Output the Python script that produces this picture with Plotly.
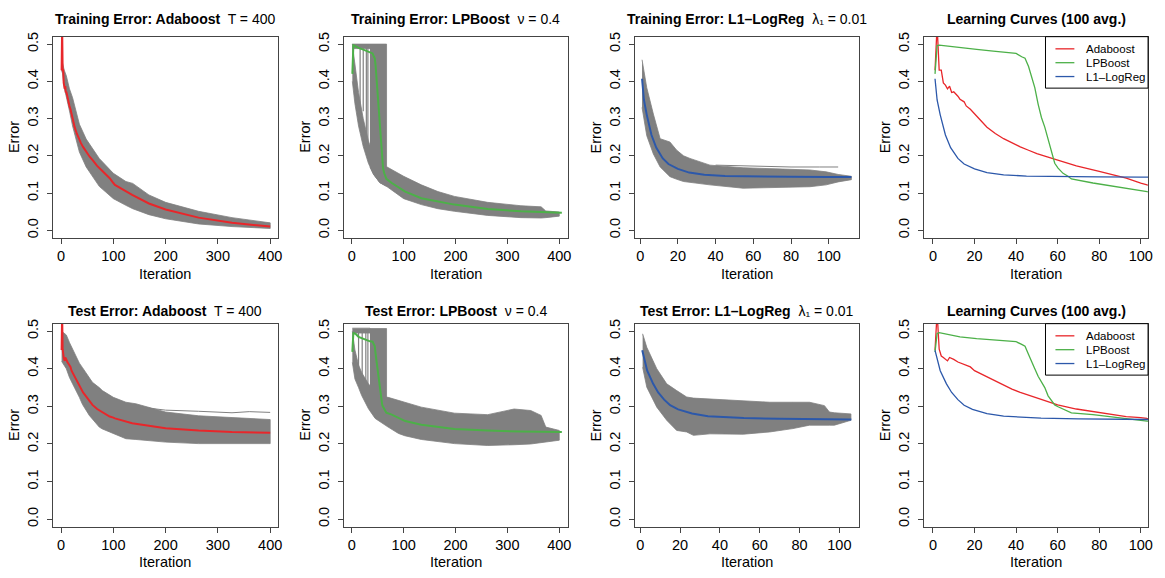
import plotly.graph_objects as go

# ---------------- data ----------------
# Adaboost mean curves (average of 100 runs)
ada_x = [1, 2, 3, 4, 5, 6, 7, 8, 9, 10, 12, 13, 15, 16, 18, 20, 23, 26, 30, 34, 38, 42, 46, 50, 55, 60, 69, 80, 93, 100, 103, 136, 168, 200, 263, 327, 400]
ada_train = [0.43, 0.55, 0.43, 0.43, 0.396, 0.39, 0.38, 0.387, 0.37, 0.372, 0.36, 0.352, 0.345, 0.334, 0.325, 0.312, 0.295, 0.277, 0.26, 0.246, 0.234, 0.224, 0.215, 0.206, 0.197, 0.189, 0.173, 0.158, 0.140, 0.127, 0.122, 0.095, 0.072, 0.056, 0.034, 0.020, 0.010]
ada_test = [0.45, 0.55, 0.452, 0.434, 0.43, 0.425, 0.421, 0.43, 0.428, 0.425, 0.418, 0.416, 0.41, 0.408, 0.405, 0.395, 0.387, 0.379, 0.368, 0.356, 0.346, 0.337, 0.330, 0.322, 0.313, 0.304, 0.293, 0.283, 0.273, 0.270, 0.268, 0.255, 0.248, 0.242, 0.236, 0.232, 0.230]

# LPBoost mean curves
lp_x = [1, 2, 3, 5, 8, 13, 21, 29, 35, 40, 42.7, 44.3, 46, 47.5, 49, 50.6, 52.2, 53.8, 55.4, 57, 58.6, 60.2, 62.6, 65, 66.6, 77, 90, 103, 134, 166, 198, 262, 326, 405]
lp_train = [0.42, 0.496, 0.497, 0.496, 0.493, 0.490, 0.486, 0.481, 0.478, 0.475, 0.466, 0.462, 0.44, 0.409, 0.383, 0.339, 0.303, 0.277, 0.242, 0.211, 0.180, 0.167, 0.153, 0.145, 0.138, 0.127, 0.116, 0.104, 0.086, 0.077, 0.069, 0.057, 0.051, 0.047]
lp_test = [0.445, 0.494, 0.496, 0.494, 0.492, 0.485, 0.480, 0.476, 0.473, 0.472, 0.465, 0.460, 0.438, 0.421, 0.400, 0.380, 0.364, 0.350, 0.328, 0.315, 0.304, 0.299, 0.293, 0.289, 0.283, 0.278, 0.269, 0.261, 0.251, 0.245, 0.240, 0.236, 0.233, 0.2316]

# L1-LogReg mean curves
l1_train_x = [1, 2, 3.5, 6, 8.5, 10, 12, 15, 20, 26, 34, 45, 61, 80, 100, 112]
l1_train = [0.407, 0.35, 0.31, 0.256, 0.222, 0.208, 0.193, 0.178, 0.165, 0.155, 0.149, 0.1455, 0.144, 0.1435, 0.143, 0.143]
l1_test_x = [1, 3.5, 6.5, 9, 12, 15, 19, 26, 34, 42, 52, 70, 90, 106]
l1_test = [0.449, 0.395, 0.36, 0.337, 0.318, 0.303, 0.292, 0.281, 0.274, 0.271, 0.269, 0.267, 0.266, 0.265]

# spread of the 100 individual runs (upper / lower envelope of the grey runs)
ada_train_run_x = [1, 3, 6, 10, 16, 22, 29, 35, 48, 54, 73, 100, 124, 137, 168, 200, 263, 327, 400]
ada_train_run_hi = [0.46, 0.444, 0.43, 0.415, 0.38, 0.356, 0.32, 0.285, 0.245, 0.232, 0.193, 0.153, 0.131, 0.126, 0.095, 0.075, 0.051, 0.034, 0.020]
ada_train_run_lo = [0.43, 0.42, 0.383, 0.36, 0.321, 0.28, 0.24, 0.21, 0.170, 0.158, 0.118, 0.085, 0.067, 0.058, 0.042, 0.031, 0.017, 0.010, 0.005]

ada_test_run_x = [1, 10, 16, 22, 35, 41, 54, 60, 73, 79, 100, 124, 143, 168, 200, 263, 327, 400]
ada_test_run_hi = [0.50, 0.49, 0.47, 0.452, 0.415, 0.403, 0.375, 0.364, 0.350, 0.342, 0.324, 0.311, 0.307, 0.298, 0.285, 0.275, 0.270, 0.265]
ada_test_run_lo = [0.42, 0.40, 0.377, 0.36, 0.324, 0.305, 0.276, 0.265, 0.245, 0.24, 0.227, 0.214, 0.212, 0.210, 0.205, 0.201, 0.201, 0.201]
ada_test_outlier_x = [140, 200, 263, 300, 327, 360, 400]
ada_test_outlier_y = [0.30, 0.29, 0.287, 0.285, 0.283, 0.286, 0.284]

lp_train_run_x = [1, 6, 13, 22, 32, 42, 54, 67, 68, 100, 134, 166, 198, 262, 326, 365, 374, 400]
lp_train_run_hi = [0.50, 0.44, 0.37, 0.30, 0.24, 0.20, 0.17, 0.17, 0.17, 0.145, 0.122, 0.104, 0.091, 0.075, 0.066, 0.063, 0.052, 0.049]
lp_train_run_lo = [0.40, 0.34, 0.28, 0.225, 0.18, 0.15, 0.128, 0.118, 0.117, 0.085, 0.069, 0.058, 0.051, 0.040, 0.034, 0.033, 0.034, 0.038]
lp_train_stuck_x = [35, 42, 54, 67]
lp_train_stuck_hi = [0.5, 0.5, 0.5, 0.5]
lp_train_stuck_lo = [0.17, 0.15, 0.128, 0.118]
lp_train_top_x = [1, 35]
lp_train_top_hi = [0.5, 0.5]
lp_train_top_lo = [0.488, 0.488]
lp_train_drop_x = [16, 22, 28, 31]
lp_train_drop_lo = [0.29, 0.32, 0.22, 0.20]

lp_test_run_x = [1, 6, 13, 19, 32, 45, 55, 64, 70, 90, 102, 134, 166, 198, 262, 313, 345, 365, 374, 400]
lp_test_run_hi = [0.50, 0.45, 0.41, 0.39, 0.36, 0.34, 0.33, 0.325, 0.324, 0.315, 0.311, 0.298, 0.289, 0.282, 0.278, 0.293, 0.289, 0.276, 0.245, 0.236]
lp_test_run_lo = [0.417, 0.373, 0.35, 0.329, 0.294, 0.268, 0.258, 0.250, 0.245, 0.228, 0.222, 0.212, 0.207, 0.201, 0.196, 0.198, 0.200, 0.203, 0.205, 0.21]
lp_test_stuck_x = [35, 48, 67]
lp_test_stuck_hi = [0.507, 0.507, 0.507]
lp_test_stuck_lo = [0.33, 0.31, 0.30]
lp_test_top_x = [1, 35]
lp_test_top_hi = [0.508, 0.508]
lp_test_top_lo = [0.495, 0.495]
lp_test_drop_x = [13, 20, 27, 31]
lp_test_drop_lo = [0.40, 0.37, 0.36, 0.35]

l1_train_run_x = [1, 3.5, 7, 10.6, 15.8, 19.4, 23, 26.4, 37, 54.6, 72, 90, 98.6, 105, 112]
l1_train_run_hi = [0.458, 0.383, 0.312, 0.246, 0.237, 0.215, 0.20, 0.193, 0.175, 0.168, 0.165, 0.162, 0.157, 0.15, 0.145]
l1_train_run_lo = [0.33, 0.254, 0.205, 0.170, 0.144, 0.137, 0.131, 0.128, 0.122, 0.113, 0.116, 0.117, 0.122, 0.13, 0.136]
l1_train_outlier_x = [40, 60, 80, 95, 105]
l1_train_outlier_y = [0.175, 0.172, 0.17, 0.17, 0.17]

l1_test_run_x = [1.2, 3.3, 8.3, 13.3, 18.3, 23.3, 26.7, 35, 51.7, 65, 76.7, 85, 92.5, 95, 97.5, 105.8]
l1_test_run_hi = [0.493, 0.457, 0.40, 0.36, 0.342, 0.325, 0.322, 0.320, 0.316, 0.311, 0.311, 0.311, 0.302, 0.285, 0.283, 0.280]
l1_test_run_lo = [0.404, 0.351, 0.298, 0.263, 0.236, 0.232, 0.223, 0.227, 0.226, 0.232, 0.241, 0.250, 0.250, 0.250, 0.250, 0.263]

methods = ["Adaboost", "LPBoost", "L1–LogReg"]
titles = [
    "<b>Training Error: Adaboost</b>\u00a0 T = 400",
    "<b>Training Error: LPBoost</b>\u00a0 ν = 0.4",
    "<b>Training Error: L1–LogReg</b>\u00a0 λ\u2081 = 0.01",
    "<b>Learning Curves (100 avg.)</b>",
    "<b>Test Error: Adaboost</b>\u00a0 T = 400",
    "<b>Test Error: LPBoost</b>\u00a0 ν = 0.4",
    "<b>Test Error: L1–LogReg</b>\u00a0 λ\u2081 = 0.01",
    "<b>Learning Curves (100 avg.)</b>",
]
ticks_400 = [0, 100, 200, 300, 400]
ticks_100 = [0, 20, 40, 60, 80, 100]
y_ticks = [0.0, 0.1, 0.2, 0.3, 0.4, 0.5]

# ---------------- styling / layout ----------------
W, H = 1165, 578
RED, GREEN, BLUE, GRAY = "#e8262a", "#4cb048", "#2c58aa", "#808080"
method_colors = [RED, GREEN, BLUE]
FONT = "Liberation Sans, Arial, Helvetica, sans-serif"
col_px = [(53, 279), (345, 570), (638, 863), (928, 1153)]
row_px = [(32, 235), (322, 527)]
x_ranges = [[-15.9, 414.6], [-16, 416], [-2.6, 116.2], [-4.3, 103.5],
            [-15.9, 414.6], [-16, 416], [-2.5, 110], [-4.3, 103.5]]
x_ticks = [ticks_400, ticks_400, ticks_100, ticks_100, ticks_400, ticks_400, ticks_100, ticks_100]

fig = go.Figure()


def ax(i):
    return ("x" if i == 1 else f"x{i}"), ("y" if i == 1 else f"y{i}")


def add_band(i, x, hi, lo):
    xa, ya = ax(i)
    fig.add_trace(go.Scatter(x=list(x) + list(x)[::-1], y=list(hi) + list(lo)[::-1],
                             fill="toself", fillcolor=GRAY, mode="lines",
                             line=dict(color=GRAY, width=0.8), hoverinfo="skip",
                             showlegend=False, xaxis=xa, yaxis=ya))


def add_line(i, x, y, color, width, name=None):
    xa, ya = ax(i)
    fig.add_trace(go.Scatter(x=x, y=y, mode="lines", line=dict(color=color, width=width),
                             name=name, showlegend=False, xaxis=xa, yaxis=ya))


def add_drops(i, xs, bottoms, top):
    xx, yy = [], []
    for xv, b in zip(xs, bottoms):
        xx += [xv, xv, None]
        yy += [top, b, None]
    xa, ya = ax(i)
    fig.add_trace(go.Scatter(x=xx, y=yy, mode="lines", line=dict(color=GRAY, width=1.2),
                             hoverinfo="skip", showlegend=False, xaxis=xa, yaxis=ya))


# panel 1: training Adaboost
add_band(1, ada_train_run_x, ada_train_run_hi, ada_train_run_lo)
add_line(1, ada_x, ada_train, RED, 2)
# panel 2: training LPBoost
add_band(2, lp_train_run_x, lp_train_run_hi, lp_train_run_lo)
add_band(2, lp_train_stuck_x, lp_train_stuck_hi, lp_train_stuck_lo)
add_band(2, lp_train_top_x, lp_train_top_hi, lp_train_top_lo)
add_drops(2, lp_train_drop_x, lp_train_drop_lo, 0.5)
add_line(2, lp_x, lp_train, GREEN, 2)
# panel 3: training L1-LogReg
add_band(3, l1_train_run_x, l1_train_run_hi, l1_train_run_lo)
add_line(3, l1_train_outlier_x, l1_train_outlier_y, GRAY, 1)
add_line(3, l1_train_x, l1_train, BLUE, 2)
# panel 4: training learning curves
add_line(4, ada_x, ada_train, RED, 1.3, methods[0])
add_line(4, lp_x, lp_train, GREEN, 1.3, methods[1])
add_line(4, l1_train_x, l1_train, BLUE, 1.3, methods[2])
# panel 5: test Adaboost
add_band(5, ada_test_run_x, ada_test_run_hi, ada_test_run_lo)
add_line(5, ada_test_outlier_x, ada_test_outlier_y, GRAY, 1)
add_line(5, ada_x, ada_test, RED, 2)
# panel 6: test LPBoost
add_band(6, lp_test_run_x, lp_test_run_hi, lp_test_run_lo)
add_band(6, lp_test_stuck_x, lp_test_stuck_hi, lp_test_stuck_lo)
add_band(6, lp_test_top_x, lp_test_top_hi, lp_test_top_lo)
add_drops(6, lp_test_drop_x, lp_test_drop_lo, 0.505)
add_line(6, lp_x, lp_test, GREEN, 2)
# panel 7: test L1-LogReg
add_band(7, l1_test_run_x, l1_test_run_hi, l1_test_run_lo)
add_line(7, l1_test_x, l1_test, BLUE, 2)
# panel 8: test learning curves
add_line(8, ada_x, ada_test, RED, 1.3, methods[0])
add_line(8, lp_x, lp_test, GREEN, 1.3, methods[1])
add_line(8, l1_test_x, l1_test, BLUE, 1.3, methods[2])

annotations, shapes = [], []
layout = dict(width=W, height=H, margin=dict(l=0, r=0, t=0, b=0),
              paper_bgcolor="white", plot_bgcolor="white", showlegend=False,
              font=dict(family=FONT, size=14, color="black"))
for i in range(1, 9):
    r, c = (i - 1) // 4, (i - 1) % 4
    x0, x1 = col_px[c]
    y0, y1 = row_px[r]
    xd = [x0 / W, x1 / W]
    yd = [1 - y1 / H, 1 - y0 / H]
    xa, ya = ax(i)
    common = dict(showline=True, mirror=True, linecolor="#444", linewidth=1,
                  ticks="outside", ticklen=5, tickcolor="#444", showgrid=False,
                  zeroline=False, tickfont=dict(size=14.5, family=FONT, color="black"))
    layout["xaxis" if i == 1 else f"xaxis{i}"] = dict(domain=xd, anchor=ya, range=x_ranges[i - 1],
                                                     tickvals=x_ticks[i - 1], **common)
    layout["yaxis" if i == 1 else f"yaxis{i}"] = dict(domain=yd, anchor=xa, range=[-0.0195, 0.52],
                                                     tickvals=y_ticks, tickformat=".1f",
                                                     tickangle=-90, ticklabelstandoff=3, **common)
    cx = (x0 + x1) / 2 / W
    title_y = [14, 309][r]
    iter_y = [272, 563][r]
    annotations += [
        dict(text=titles[i - 1], x=cx, y=1 - title_y / H, xref="paper", yref="paper",
             showarrow=False, xanchor="center", yanchor="middle", font=dict(size=14)),
        dict(text="Iteration", x=cx, y=1 - iter_y / H, xref="paper", yref="paper",
             showarrow=False, xanchor="center", yanchor="middle", font=dict(size=14.5)),
        dict(text="Error", x=(x0 - 39) / W, y=1 - (y0 + y1) / 2 / H, xref="paper", yref="paper",
             showarrow=False, xanchor="center", yanchor="middle", textangle=-90, font=dict(size=14.5)),
    ]

# legends of the two learning-curve panels (drawn as a boxed key, R style)
for top in (32, 322):
    shapes.append(dict(type="rect", xref="paper", yref="paper", x0=1050 / W, x1=1153 / W,
                       y0=1 - (top + 52) / H, y1=1 - top / H,
                       line=dict(color="black", width=1), fillcolor="white", layer="above"))
    for k, (name, col) in enumerate(zip(methods, method_colors)):
        yy = 1 - (top + 12.3 + 14 * k) / H
        shapes.append(dict(type="line", xref="paper", yref="paper", x0=1060 / W, x1=1079 / W,
                           y0=yy, y1=yy, line=dict(color=col, width=1.3), layer="above"))
        annotations.append(dict(text=name, x=1089 / W, y=yy, xref="paper", yref="paper",
                                showarrow=False, xanchor="left", yanchor="middle",
                                font=dict(size=11.5, family=FONT)))

layout["annotations"] = annotations
layout["shapes"] = shapes
fig.update_layout(**layout)
fig.write_html("out.html", config={"displayModeBar": False},
               post_script="document.body.style.margin='0px';document.body.style.padding='0px';")
